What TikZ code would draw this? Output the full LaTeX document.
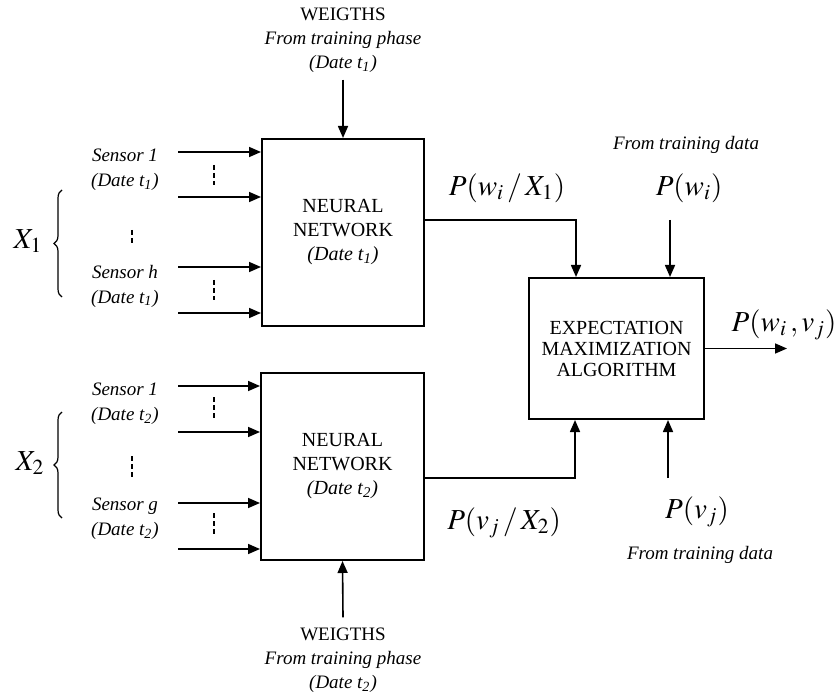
\documentclass[tikz,border=0pt]{standalone}
\usepackage{mathptmx}
\usepackage[no-math]{fontspec}
\setmainfont{Liberation Serif}
\usetikzlibrary{arrows.meta,decorations.pathreplacing}

\begin{document}
\begin{tikzpicture}
[x=0.5pt,y=-0.5pt,
 boxdecorate/.style={shape=rectangle,draw,line width=1pt,inner sep=0pt,align=center,font=\fontsize{10}{12}\selectfont},
 arrowdecorate/.style={-{Triangle[length=6pt,width=5pt]},line width=0.8pt},
 gapdecorate/.style={-,line width=0.8pt,dash pattern=on 2.5pt off 1.5pt},
 bracedecorate/.style={decorate,decoration={brace,amplitude=4pt},line width=0.6pt},
 labeldecorate/.style={align=center,inner sep=0pt,font=\fontsize{9.5}{12.5}\selectfont\itshape},
 probdecorate/.style={inner sep=0pt,font=\fontsize{14.5}{16}\selectfont}]
\useasboundingbox (0,0) rectangle (838,694);
%% blocks
\node (nn1) at (343,232.5) [boxdecorate,minimum width=81pt,minimum height=93.5pt]
  {NEURAL\\NETWORK\\\textit{(Date t\textsubscript{1})}};
\node (nn2) at (342.5,466.5) [boxdecorate,minimum width=81.5pt,minimum height=93.5pt]
  {NEURAL\\NETWORK\\\textit{(Date t\textsubscript{2})}};
\node (em) at (616.5,348.5) [boxdecorate,minimum width=87.5pt,minimum height=70.5pt,font=\fontsize{10}{10.5}\selectfont]
  {EXPECTATION\\MAXIMIZATION\\ALGORITHM};
%% weights
\node (w1) at (343,40) [labeldecorate,font=\fontsize{9.5}{12}\selectfont]
  {WEIGTHS\\\textit{From training phase}\\\textit{(Date t\textsubscript{1})}};
\node (w2) at (343,660) [labeldecorate,font=\fontsize{9.5}{12}\selectfont]
  {WEIGTHS\\\textit{From training phase}\\\textit{(Date t\textsubscript{2})}};
%% sensor labels
\foreach \name/\x/\y/\txt in {s1/125/170/{Sensor 1\\(Date t\textsubscript{1})},
    sh/125/286/{Sensor h\\(Date t\textsubscript{1})},
    s2/125/404/{Sensor 1\\(Date t\textsubscript{2})},
    sg/125/519/{Sensor g\\(Date t\textsubscript{2})}} {
  \node (\name) at (\x,\y) [labeldecorate] {\txt};
}
\node (x1) at (28,241) [probdecorate] {$X_1$};
\node (x2) at (30,463) [probdecorate] {$X_2$};
%% probabilities
\node (pwx1) at (507,188) [probdecorate] {$P(w_i\,/\,X_1)$};
\node (pw) at (689,188) [probdecorate] {$P(w_i)$};
\node (pwv) at (784,325) [probdecorate] {$P(w_i\,,v_j)$};
\node (pvx2) at (504,523) [probdecorate] {$P(v_j\,/\,X_2)$};
\node (pv) at (697,512) [probdecorate] {$P(v_j)$};
\node (td1) at (686,145) [labeldecorate] {From training data};
\node (td2) at (700,555) [labeldecorate] {From training data};
%% inputs
\foreach \name/\y/\blk in {a1/152/nn1, a2/197/nn1, a3/267/nn1, a4/313/nn1,
    b1/386/nn2, b2/432/nn2, b3/503/nn2, b4/549/nn2} {
  \coordinate (\name) at (178,\y);
  \draw[arrowdecorate] (\name) -- (\name -| \blk.west);
}
%% dotted gaps
\foreach \x/\ya/\yb in {214/165/185, 214/280/300, 214/397/418, 214/513/535, 132/230/245, 132/456/477} {
  \draw[gapdecorate] (\x,\ya) -- (\x,\yb);
}
\draw[bracedecorate] (62,297) -- (62,190);
\draw[bracedecorate] (62,518) -- (62,412);
%% edges
\coordinate (pwin) at (670,220);
\coordinate (pvin) at (668,478);
\coordinate (out) at (787,348.5);
\draw[arrowdecorate] ([yshift=-3.5pt]w1.south) -- (nn1.north);
\draw[arrowdecorate] ([yshift=5pt]w2.north) -- (nn2.south);
\draw[arrowdecorate] ([yshift=6.25pt]nn1.east) -| ([xshift=-20.25pt]em.north);
\draw[arrowdecorate] ([yshift=-5.75pt]nn2.east) -| ([xshift=-20.75pt]em.south);
\draw[arrowdecorate] (pwin) -- (pwin |- em.north);
\draw[arrowdecorate] (pvin) -- (pvin |- em.south);
\draw[arrowdecorate] (em.east) -- (em.east -| out);
\end{tikzpicture}
\end{document}
